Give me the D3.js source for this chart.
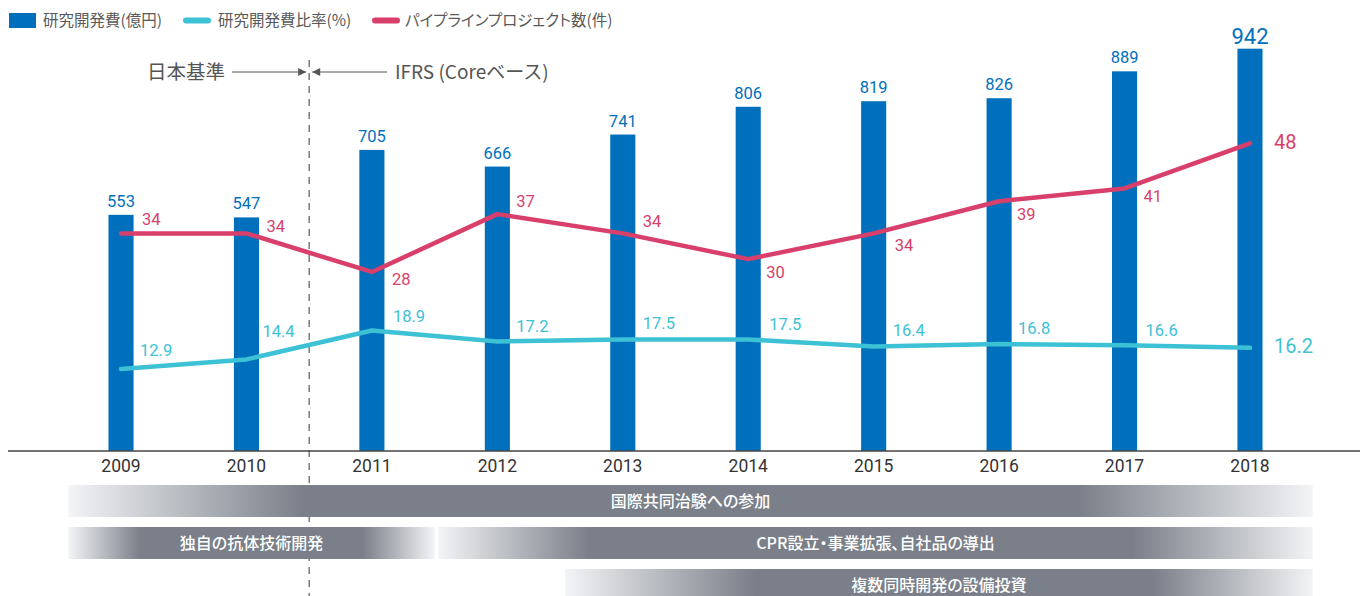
<!DOCTYPE html>
<html>
<head>
<meta charset="utf-8">
<script src="https://cdn.jsdelivr.net/npm/d3@7"></script>
<style>
  body { margin: 0; background: #fff; }
  svg { display: block; }
</style>
</head>
<body>
<div id="chart"></div>
<script>
// donnees
const years = [2009, 2010, 2011, 2012, 2013, 2014, 2015, 2016, 2017, 2018];
const rdCost = [553, 547, 705, 666, 741, 806, 819, 826, 889, 942];      // 研究開発費(億円)
const rdRatio = [12.9, 14.4, 18.9, 17.2, 17.5, 17.5, 16.4, 16.8, 16.6, 16.2]; // 研究開発費比率(%)
const pipeline = [34, 34, 28, 37, 34, 30, 34, 39, 41, 48];             // パイプライン数(件)

const legendLabels = ["研究開発費(億円)", "研究開発費比率(%)", "パイプラインプロジェクト数(件)"];

// frise du bas
const bandLabels = ["国際共同治験への参加", "独自の抗体技術開発", "CPR設立・事業拡張、自社品の導出", "複数同時開発の設備投資"];
const bandFrom = [2008.58, 2008.58, 2011.53, 2012.54];
const bandTo = [2018.5, 2011.5, 2018.5, 2018.5];
const bandRow = [0, 1, 1, 2];

// mise en page
const width = 1360, height = 596, baseline = 451;
const blue = "#0070bc", pink = "#d93f6b", cyan = "#3cc1d5";
const numFont = "Roboto, 'Noto Sans', sans-serif";
const jpFont = "'Noto Sans CJK JP', 'Noto Sans', sans-serif";

// decalages des etiquettes (dx, dy de la ligne de base)
const pinkNudge = [[21,-8],[20,-1],[20,13],[19,-7],[20,-6],[18,19],[21,18],[18,19],[19,14],[24,6]];
const cyanNudge = [[19,-13],[16,-22],[21,-8],[19,-9],[20,-10],[21,-9],[19,-11],[19,-10],[21,-9],[24,5]];
const fadeL = [235, 72, 150, 190];
const fadeR = [235, 72, 180, 160];

const svg = d3.select("#chart").append("svg")
  .attr("width", width).attr("height", height)
  .style("font-family", jpFont)
  .style("font-feature-settings", "'palt'");

const defs = svg.append("defs");

const x = d3.scaleBand()
  .domain(years)
  .range([58.3, 1312.7])
  .paddingInner(0.8)
  .paddingOuter(0.4);
const xc = d => x(d) + x.bandwidth() / 2;
const xYear = d3.scaleLinear().domain([2009, 2018]).range([xc(2009), xc(2018)]);

const yBar = d3.scaleLinear().domain([0, 1056]).range([baseline, 0]);
const yLine = d3.scaleLinear().domain([0, 70.3]).range([baseline + 1, 0]);

// separation 日本基準 / IFRS
const sepX = xYear(2010.5);
svg.append("line")
  .attr("x1", sepX).attr("x2", sepX)
  .attr("y1", 60).attr("y2", height)
  .attr("stroke", "#666").attr("stroke-width", 1.3)
  .attr("stroke-dasharray", "7,6");

// barres
svg.append("g").selectAll("rect")
  .data(years)
  .join("rect")
  .attr("x", d => x(d))
  .attr("width", x.bandwidth())
  .attr("y", (d, i) => yBar(rdCost[i]))
  .attr("height", (d, i) => baseline - yBar(rdCost[i]))
  .attr("fill", blue);

svg.append("g").selectAll("text")
  .data(years)
  .join("text")
  .attr("x", d => xc(d))
  .attr("y", (d, i) => yBar(rdCost[i]) - (i == years.length - 1 ? 5 : 8))
  .attr("text-anchor", "middle")
  .style("font-family", numFont)
  .style("font-size", (d, i) => i == years.length - 1 ? "22px" : "16.5px")
  .attr("fill", blue)
  .text((d, i) => rdCost[i]);

// ligne de base
svg.append("line")
  .attr("x1", 8).attr("x2", width)
  .attr("y1", baseline).attr("y2", baseline)
  .attr("stroke", "#444").attr("stroke-width", 1.5);

const xAxis = svg.append("g")
  .attr("transform", "translate(0," + baseline + ")")
  .call(d3.axisBottom(x).tickSize(0).tickPadding(0));
xAxis.select(".domain").remove();
xAxis.selectAll("text")
  .attr("dy", 0).attr("y", 21)
  .style("font-family", numFont)
  .style("font-size", "17.5px")
  .attr("fill", "#333");

// lignes
const line = d3.line().x(d => xc(d[0])).y(d => yLine(d[1]));

svg.append("path")
  .datum(years.map((d, i) => [d, rdRatio[i]]))
  .attr("d", line)
  .attr("fill", "none").attr("stroke", cyan)
  .attr("stroke-width", 4.5).attr("stroke-linecap", "round").attr("stroke-linejoin", "round");

svg.append("path")
  .datum(years.map((d, i) => [d, pipeline[i]]))
  .attr("d", line)
  .attr("fill", "none").attr("stroke", pink)
  .attr("stroke-width", 4.5).attr("stroke-linecap", "round").attr("stroke-linejoin", "round");

function labels(values, nudge, color) {
  svg.append("g").selectAll("text")
    .data(years)
    .join("text")
    .attr("x", (d, i) => xc(d) + nudge[i][0])
    .attr("y", (d, i) => yLine(values[i]) + nudge[i][1])
    .style("font-family", numFont)
    .style("font-size", (d, i) => i == years.length - 1 ? "20px" : "16.5px")
    .attr("fill", color)
    .text((d, i) => d3.format(".1~f")(values[i]));
}
labels(pipeline, pinkNudge, pink);
labels(rdRatio, cyanNudge, cyan);

// frise (degrades)
const bandY = [485, 527, 569], bandH = 32;
const dark = "#7a7f89", light = "#f3f4f6";

bandLabels.forEach(function (lab, i) {
  const x0 = xYear(bandFrom[i]), x1 = xYear(bandTo[i]), w = x1 - x0;
  const grad = defs.append("linearGradient")
    .attr("id", "g" + i)
    .attr("x1", 0).attr("x2", 1).attr("y1", 0).attr("y2", 0);
  grad.append("stop").attr("offset", 0).attr("stop-color", light);
  grad.append("stop").attr("offset", fadeL[i] / w).attr("stop-color", dark);
  grad.append("stop").attr("offset", 1 - fadeR[i] / w).attr("stop-color", dark);
  grad.append("stop").attr("offset", 1).attr("stop-color", light);

  svg.append("rect")
    .attr("x", x0).attr("width", w)
    .attr("y", bandY[bandRow[i]]).attr("height", bandH)
    .attr("fill", "url(#g" + i + ")");
  svg.append("text")
    .attr("x", x0 + w / 2)
    .attr("y", bandY[bandRow[i]] + bandH / 2)
    .attr("dy", "0.36em")
    .attr("text-anchor", "middle")
    .style("font-size", "16px")
    .style("font-weight", 500)
    .attr("fill", "#fff")
    .text(lab);
});

// fleches en haut
const ay = 72;
defs.append("marker")
  .attr("id", "arr")
  .attr("viewBox", "0 0 10 10")
  .attr("refX", 10).attr("refY", 5)
  .attr("markerWidth", 10).attr("markerHeight", 8)
  .attr("markerUnits", "userSpaceOnUse")
  .attr("orient", "auto")
  .append("path").attr("d", "M0,0L10,5L0,10Z").attr("fill", "#555");

svg.append("line")
  .attr("x1", 232).attr("x2", sepX - 3)
  .attr("y1", ay).attr("y2", ay)
  .attr("stroke", "#555").attr("stroke-width", 1)
  .attr("marker-end", "url(#arr)");
svg.append("line")
  .attr("x1", 387).attr("x2", sepX + 3)
  .attr("y1", ay).attr("y2", ay)
  .attr("stroke", "#555").attr("stroke-width", 1)
  .attr("marker-end", "url(#arr)");

svg.append("text")
  .attr("x", 225).attr("y", ay).attr("dy", "0.36em")
  .attr("text-anchor", "end")
  .style("font-size", "19.5px").attr("fill", "#555")
  .style("font-feature-settings", "normal")
  .text("日本基準");
svg.append("text")
  .attr("x", 395).attr("y", ay).attr("dy", "0.36em")
  .style("font-size", "19px").attr("fill", "#555")
  .style("font-feature-settings", "normal")
  .text("IFRS (Coreベース)");

// legende
const lg = svg.append("g").attr("transform", "translate(0,20.5)");
lg.append("rect").attr("x", 9).attr("y", -7.5).attr("width", 27).attr("height", 15).attr("fill", blue);
lg.append("line").attr("x1", 186).attr("x2", 208).attr("y1", 0).attr("y2", 0)
  .attr("stroke", cyan).attr("stroke-width", 6).attr("stroke-linecap", "round");
lg.append("line").attr("x1", 375).attr("x2", 397).attr("y1", 0).attr("y2", 0)
  .attr("stroke", pink).attr("stroke-width", 6).attr("stroke-linecap", "round");
const legendX = [43, 218, 405];
lg.selectAll("text.lg")
  .data(legendLabels)
  .join("text")
  .attr("x", (d, i) => legendX[i])
  .attr("dy", "0.36em")
  .style("font-size", "15.5px")
  .attr("fill", "#595959")
  .text(d => d);
</script>
</body>
</html>
